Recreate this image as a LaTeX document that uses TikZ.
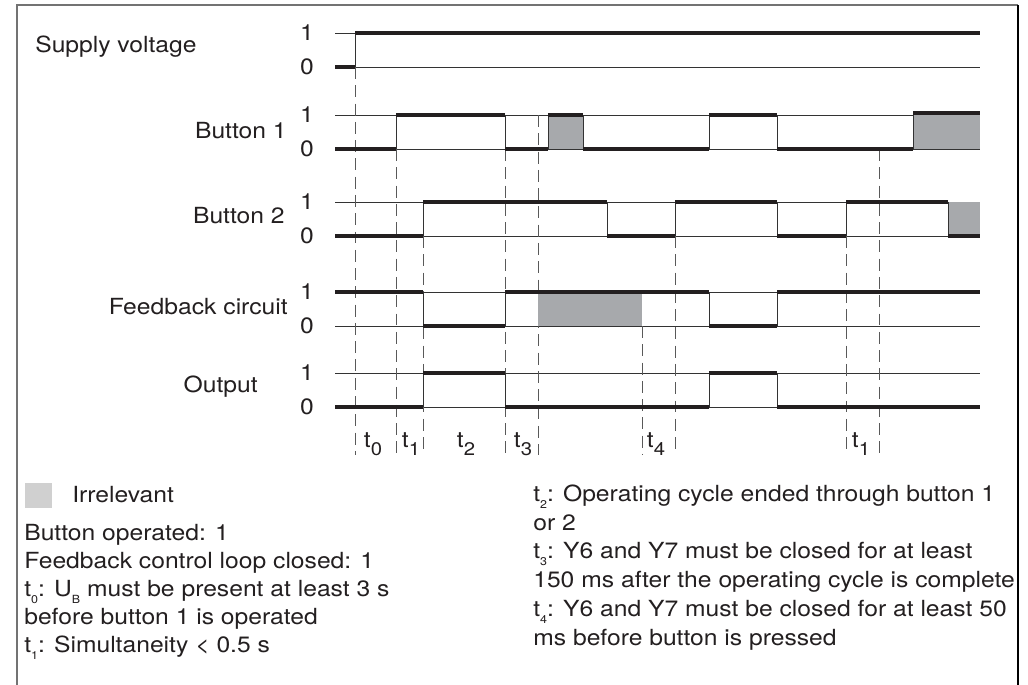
\documentclass[tikz,border=0pt]{standalone}
\usepackage{fontspec}
\setmainfont{TeX Gyre Heros}
\definecolor{sig}{HTML}{231F20}
\definecolor{irr}{HTML}{A7A9AC}
\definecolor{leg}{HTML}{D0D0D0}
\newcommand{\lowsub}[1]{\raisebox{-5pt}{\fontsize{8}{8}\selectfont #1}}
\newcommand{\tsub}[1]{\raisebox{-5.7pt}{\fontsize{13}{13}\selectfont #1}}
\tikzset{
  txt/.style={font=\fontsize{15.8}{19}\selectfont, xscale=1.11, inner sep=0pt, text=sig},
  thk/.style={line width=2.8pt, sig},
  lvl/.style={line width=0.7pt, black!80},
  dsh/.style={line width=0.7pt, black!65, dash pattern=on 8.5pt off 4.5pt},
  frm/.style={line width=1pt, black!55},
}
\begin{document}
\begin{tikzpicture}[x=0.025cm,y=-0.025cm]
  \useasboundingbox (0,0) rectangle (1028,685);
  \draw[frm] (17,685) -- (17,5) -- (1018,5);
  \draw[frm, black] (1018,5) -- (1018,685);

  \node[txt, anchor=base west] (sup) at (35,52) {Supply voltage};
  \node[txt, anchor=base east] (bt1) at (287,138) {Button 1};
  \node[txt, anchor=base east] (bt2) at (285,223) {Button 2};
  \node[txt, anchor=base east] (fbk) at (288,314) {Feedback circuit};
  \node[txt, anchor=base east] (out) at (258,392) {Output};

  \foreach \one/\zero [count=\i] in {33/67,115/149,202/236,292/326,373/407}{
    \draw[lvl] (335,\one) -- (980,\one) (335,\zero) -- (980,\zero);
    \node[txt] (hi\i) at (307,\one) {1};
    \node[txt] (lo\i) at (307,\zero) {0};
  }

  \foreach \x/\top in {355/67,396/149,423/236,505/149,538/115,642/326,675/236,846/236,879/149}
    \draw[dsh] (\x,\top) -- (\x,455);

  \fill[irr] (548,115) rectangle (583,149);
  \fill[irr] (913,113) rectangle (980,149);
  \fill[irr] (948,202) rectangle (980,236);
  \fill[irr] (538,294) rectangle (642,326);
  \draw[lvl] (548,149) -- (548,115) (583,115) -- (583,149)
    (913,149) -- (913,113) (948,202) -- (948,236);

  \draw[lvl] (355,33) -- (355,67);
  \foreach \x in {396,505,709,777} \draw[lvl] (\x,115) -- (\x,149);
  \foreach \x in {423,607,675,777,846} \draw[lvl] (\x,202) -- (\x,236);
  \foreach \x in {423,505,709,777} \draw[lvl] (\x,292) -- (\x,326) (\x,373) -- (\x,407);

  \draw[thk] (335,67) -- (355,67) (355,33) -- (980,33);
  \draw[thk] (335,149) -- (396,149) (396,115) -- (505,115) (505,149) -- (548,149)
    (548,115) -- (583,115) (583,149) -- (709,149) (709,115) -- (777,115)
    (777,149) -- (913,149) (913,113) -- (980,113);
  \draw[thk] (335,236) -- (423,236) (423,202) -- (607,202) (607,236) -- (675,236)
    (675,202) -- (777,202) (777,236) -- (846,236) (846,202) -- (948,202) (948,236) -- (980,236);
  \draw[thk] (335,292) -- (423,292) (423,326) -- (505,326) (505,292) -- (709,292)
    (709,326) -- (777,326) (777,292) -- (980,292);
  \draw[thk] (335,407) -- (423,407) (423,373) -- (505,373) (505,407) -- (709,407)
    (709,373) -- (777,373) (777,407) -- (980,407);

  \foreach \x/\s [count=\i] in {373/0,411/1,466/2,523/3,656/4,861/1}
    \node[txt, anchor=base] (t\i) at (\x,447) {t\tsub{\s}};

  \fill[leg] (25,483) rectangle (52,508);
  \node[txt, anchor=base west] (irrtxt) at (72,502) {Irrelevant};

  \foreach \y/\txt [count=\i] in {540/Button operated: 1,
      568/Feedback control loop closed: 1,
      596/t\lowsub{0}: U\lowsub{B} must be present at least 3 s,
      624/before button 1 is operated,
      652/t\lowsub{1}: Simultaneity < 0.5 s}
    \node[txt, anchor=base west] (lft\i) at (24,\y) {\txt};

  \foreach \y/\txt [count=\i] in {501/t\lowsub{2}: Operating cycle ended through button 1,
      530/or 2,
      558/t\lowsub{3}: Y6 and Y7 must be closed for at least,
      587/150 ms after the operating cycle is complete,
      616/t\lowsub{4}: Y6 and Y7 must be closed for at least 50,
      645/ms before button is pressed}
    \node[txt, anchor=base west] (rgt\i) at (533,\y) {\txt};
\end{tikzpicture}
\end{document}
